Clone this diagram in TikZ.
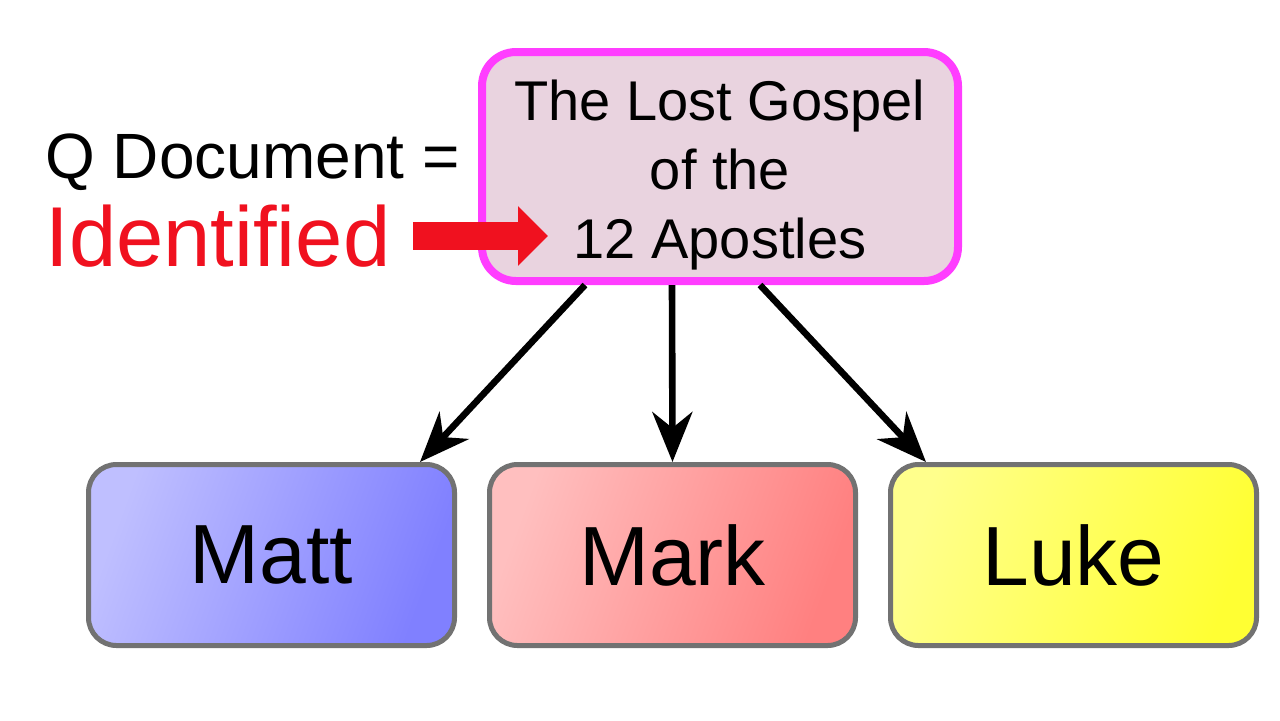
\documentclass[tikz,border=0pt]{standalone}
\usepackage{fontspec}
\setmainfont{Liberation Sans}
\usetikzlibrary{arrows.meta,positioning}
\definecolor{gospelpink}{HTML}{E9D3DF}
\definecolor{gospelrim}{HTML}{FF3DFF}
\definecolor{idred}{HTML}{F0111F}
\definecolor{rimgray}{HTML}{727272}

\begin{document}
\begin{tikzpicture}[x=0.5pt,y=-0.5pt,
	source/.style={draw=gospelrim,fill=gospelpink,line width=4pt,rounded corners=17pt,
		minimum width=238pt,minimum height=114.5pt,align=center,font=\fontsize{28}{34.5}\selectfont},
	gospel/.style={draw=rimgray,line width=2.5pt,rounded corners=14pt,
		minimum width=183pt,minimum height=90.5pt,font=\fontsize{42}{50}\selectfont},
	feed/.style={line width=3.3pt,-{Stealth[length=25pt,width=20pt,inset=8pt]}},
	pointer/.style={idred,line width=14pt,-{Triangle[length=15pt,width=29pt]}}]
			\useasboundingbox (0,0) rectangle (1280,720);
			% the lost source
			\node[source] (lost) at (720,166.5) {\rule{0pt}{28.5pt}The Lost Gospel\\of the\\12 Apostles};
			\node[anchor=base west,inner sep=0pt,font=\fontsize{32}{38}\selectfont] (qdoc) at (45,178) {Q Document =};
			\node[anchor=base west,inner sep=0pt,text=idred,font=\fontsize{42.5}{50}\selectfont] (ident) at (45,266) {Identified};
			\coordinate (idtip) at (548,236);
			\draw[pointer] ([xshift=11pt]ident.east |- idtip) -- (idtip);
			
			% the three gospels
			\node[gospel,left color=blue!25!white,right color=blue!50!white,shading angle=70] (matt) at (271.5,555) {Matt};
			\node[gospel,left color=red!25!white,right color=red!50!white,shading angle=70,right=15pt of matt] (mark) {Mark};
			\node[gospel,left color=yellow!45!white,right color=yellow!80!white,shading angle=70,right=15pt of mark] (luke) {Luke};
			
			\draw[feed] ([xshift=-67.5pt]lost.south) -- ([xshift=-18.5pt]matt.north east);
			\draw[feed] ([xshift=-24pt]lost.south) -- (mark.north);
			\draw[feed] ([xshift=20pt]lost.south) -- ([xshift=19pt]luke.north west);
\end{tikzpicture}
\end{document}
